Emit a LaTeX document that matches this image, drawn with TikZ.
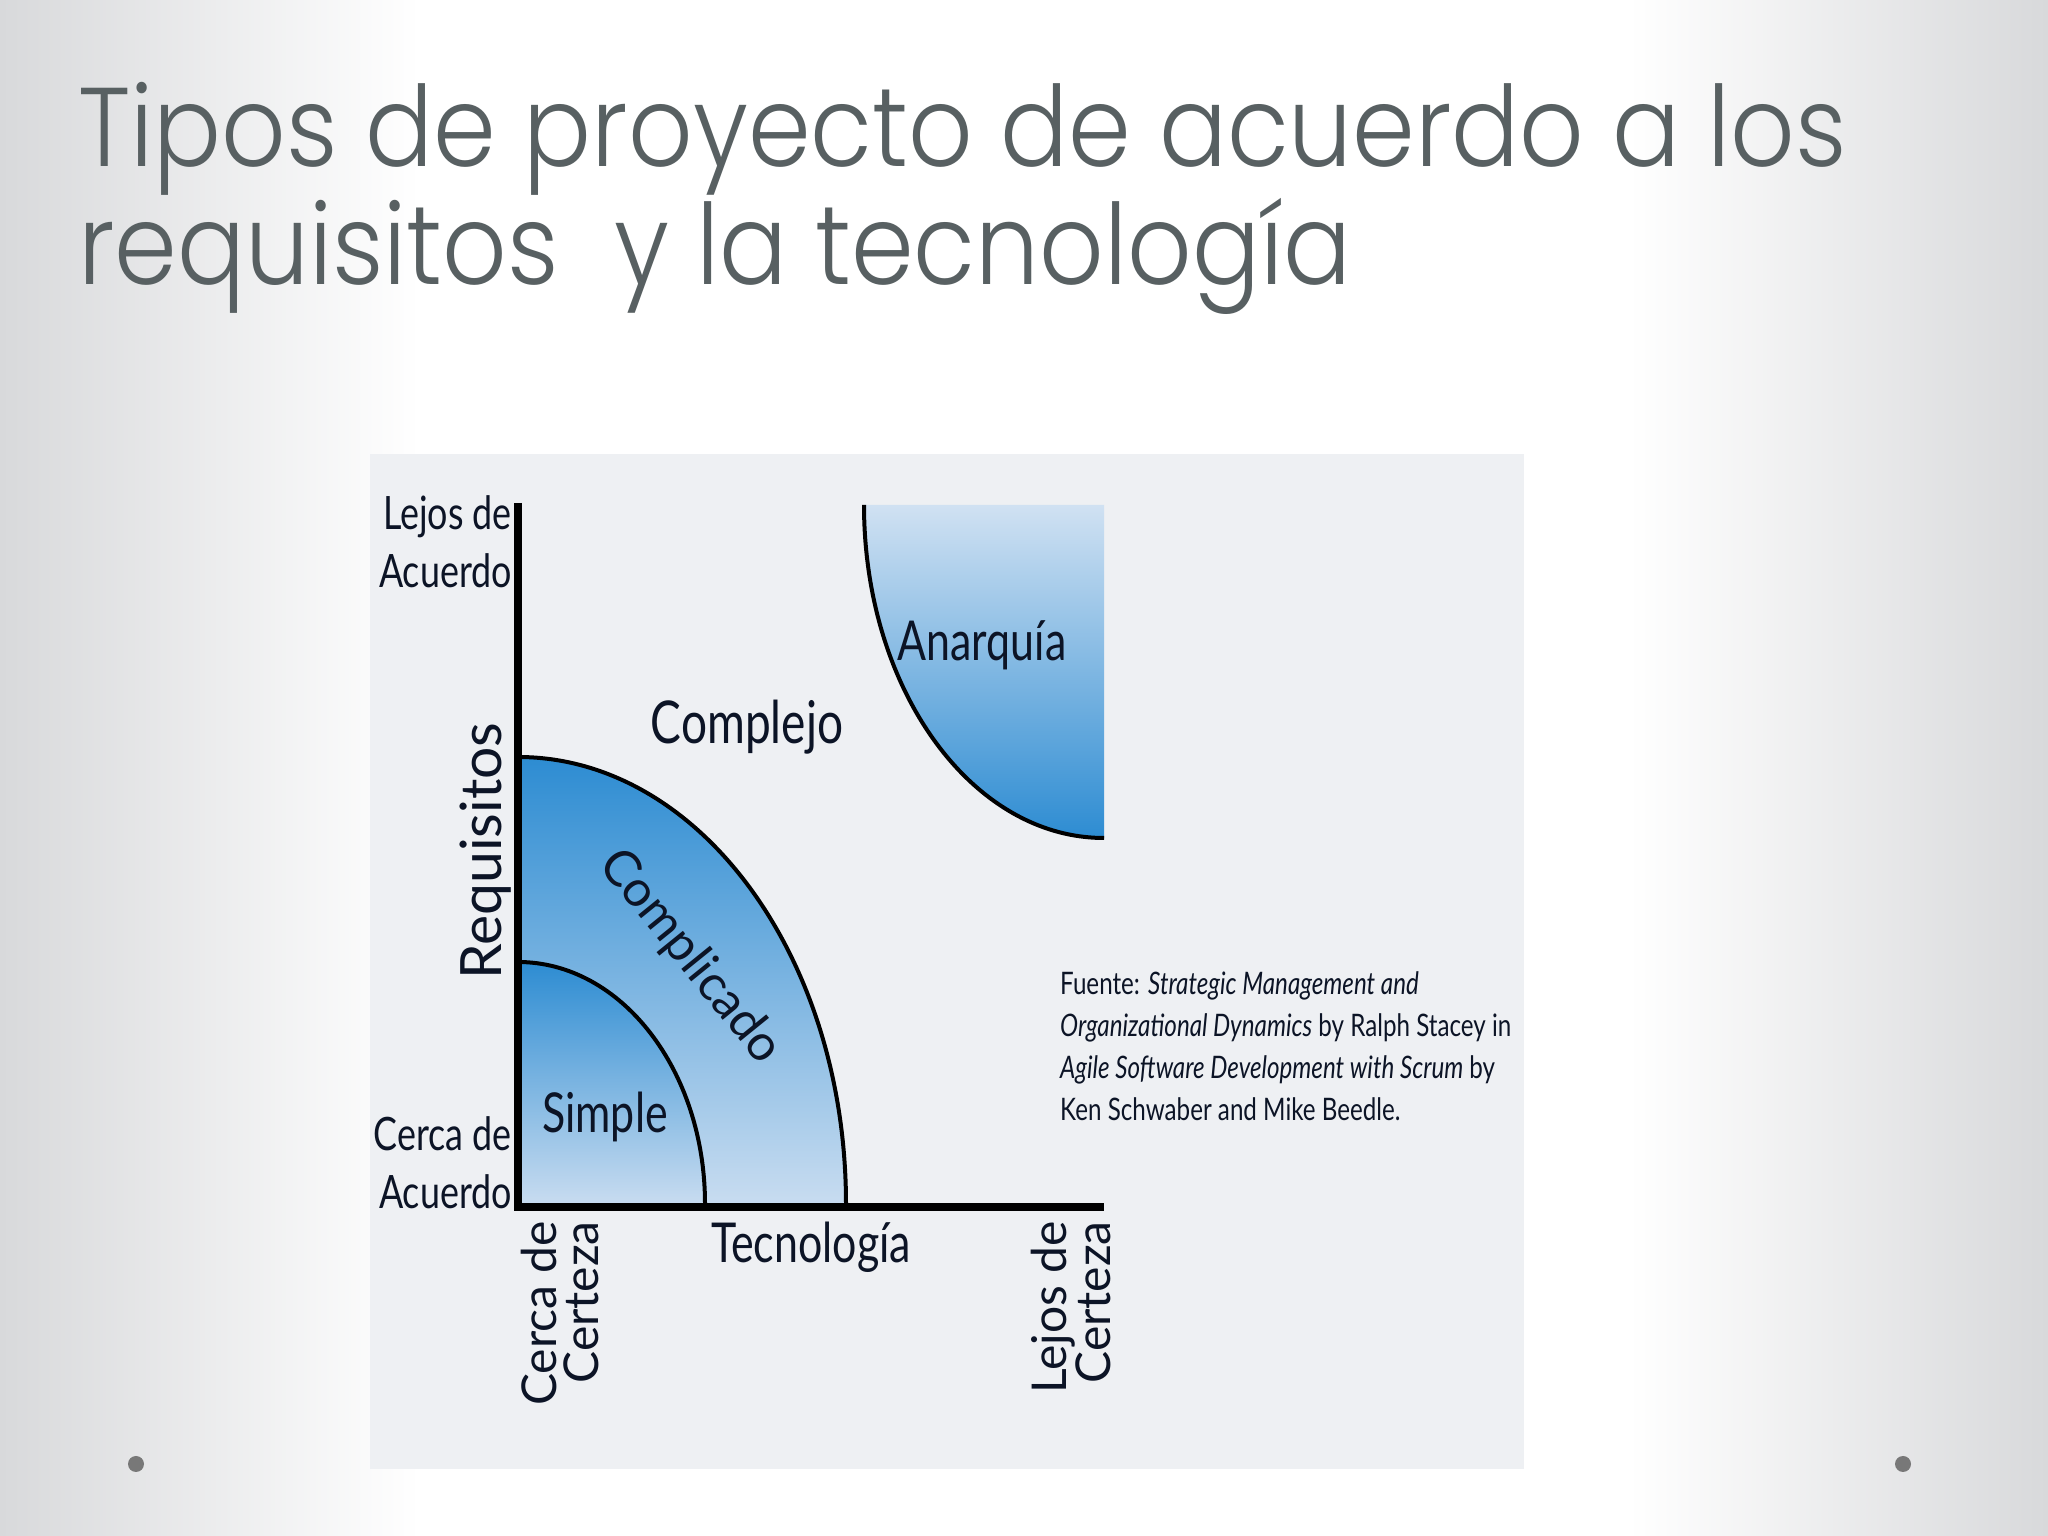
\documentclass[tikz,border=0pt]{standalone}
\usepackage{fontspec}
\setmainfont{Lato}
\newfontfamily\titlefont{Poppins Light}[FakeStretch=0.9]
\newfontfamily\labc{Lato}[FakeStretch=0.78]
\newfontfamily\labw{Lato}
\definecolor{slidegray}{RGB}{216,217,219}
\definecolor{panelgray}{RGB}{238,240,243}
\definecolor{titlegray}{RGB}{88,96,98}
\definecolor{inktext}{RGB}{12,20,38}
\definecolor{bluedark}{RGB}{45,140,210}
\definecolor{bluemid}{RGB}{92,162,220}
\definecolor{bluelight}{RGB}{200,220,240}
\definecolor{dotgray}{RGB}{120,120,120}
\tikzset{
  lbl/.style={inner sep=0pt, text=inktext},
  arcline/.style={draw=black, line width=4pt},
  axisline/.style={draw=black, line width=8pt},
}
\begin{document}
\begin{tikzpicture}[x=1pt,y=1pt]
\useasboundingbox (0,0) rectangle (2048,1536);
% slide background
\fill[white] (0,0) rectangle (2048,1536);
\shade[left color=slidegray, right color=white] (0,0) rectangle (420,1536);
\shade[left color=white, right color=slidegray] (1628,0) rectangle (2048,1536);
% title
\node[anchor=base west, inner sep=0pt, text=titlegray, font=\titlefont\fontsize{112}{118}\selectfont] (t1) at (78,1369) {Tipos de proyecto de acuerdo a los};
\node[anchor=base west, inner sep=0pt, text=titlegray, font=\titlefont\fontsize{112}{118}\selectfont] (t2) at (78,1251) {requisitos\ \ y la tecnología};
% panel
\fill[panelgray] (370,67) rectangle (1524,1082);
% Complicado region
\shade[top color=bluedark, middle color=bluemid, bottom color=bluelight] (518,332) -- (518,779) arc[start angle=90, end angle=0, x radius=328, y radius=447] -- cycle;
% Simple region
\shade[top color=bluedark, middle color=bluemid!85!white, bottom color=bluelight] (518,332) -- (518,574) arc[start angle=90, end angle=0, x radius=187, y radius=242] -- cycle;
\draw[arcline] (518,779) arc[start angle=90, end angle=0, x radius=328, y radius=447];
\draw[arcline] (518,574) arc[start angle=90, end angle=0, x radius=187, y radius=242];
% Anarquia region
\shade[top color=bluelight!85!white, middle color=bluemid!85!white, bottom color=bluedark] (1104,1031) -- (864,1031) arc[start angle=180, end angle=270, x radius=240, y radius=333] -- cycle;
\draw[arcline] (864,1031) arc[start angle=180, end angle=270, x radius=240, y radius=333];
% axes
\coordinate (ytop) at (518,1033);
\coordinate (orig) at (518,329);
\coordinate (xend) at (1104,329);
\draw[axisline] (ytop) -- ([yshift=-4pt]orig) ;
\draw[axisline] ([xshift=-4pt]orig) -- (xend);
% labels
\node[lbl, anchor=east, align=right, font=\labc\fontsize{46}{58}\selectfont] (lejosA) at (512,994) {Lejos de\\Acuerdo};
\node[lbl, anchor=east, align=right, font=\labc\fontsize{46}{58}\selectfont] (cercaA) at (512,373) {Cerca de\\Acuerdo};
\node[lbl, rotate=90, font=\labw\fontsize{57}{58}\selectfont] (req) at (486,685) {Requisitos};
\node[lbl, font=\labc\fontsize{59}{58}\selectfont] (complejo) at (747,809) {Complejo};
\node[lbl, font=\labc\fontsize{55}{58}\selectfont] (anarquia) at (982,891) {Anarquía};
\node[lbl, rotate=-51, font=\labw\fontsize{50}{58}\selectfont] (complicado) at (690,579) {Complicado};
\node[lbl, font=\labc\fontsize{55}{58}\selectfont] (simple) at (605,419) {Simple};
\node[lbl, font=\labc\fontsize{55}{58}\selectfont] (tecno) at (811,289) {Tecnología};
\node[lbl, rotate=90, anchor=east, align=right, font=\labw\fontsize{48}{42}\selectfont] (cercaC) at (560,315) {Cerca de\\Certeza};
\node[lbl, rotate=90, anchor=east, align=right, font=\labw\fontsize{48}{42}\selectfont] (lejosC) at (1071,315) {Lejos de\\Certeza};
\node[lbl, anchor=west, align=left, font=\labc\fontsize{31}{42}\selectfont] (fuente) at (1060,490) {Fuente: \textit{Strategic Management and}\\\textit{Organizational Dynamics} by Ralph Stacey in\\\textit{Agile Software Development with Scrum} by\\Ken Schwaber and Mike Beedle.};
% dots
\fill[dotgray] (136,72) circle (8);
\fill[dotgray] (1903,72) circle (8);
\end{tikzpicture}
\end{document}
